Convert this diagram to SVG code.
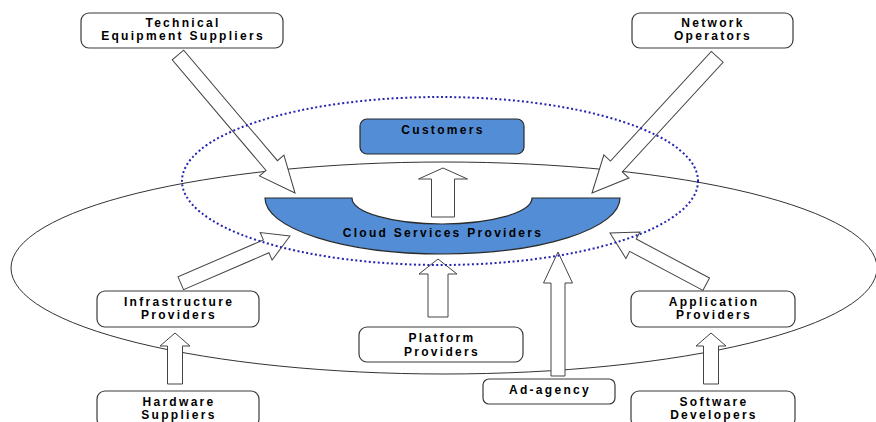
<svg xmlns="http://www.w3.org/2000/svg" width="876" height="422" viewBox="0 0 876 422">
<style>
.box{fill:#fff;stroke:#3a3a3a;stroke-width:1.2}
.blue{fill:#538dd5;stroke:#2a2a2a;stroke-width:1.2}
.t{font-family:"Liberation Sans",Arial,sans-serif;font-weight:bold;font-size:12px;letter-spacing:2.3px;text-anchor:middle;fill:#000}
.arr{fill:#fff;stroke:#444;stroke-width:1;stroke-linejoin:miter}
</style>
<rect width="876" height="422" fill="#fff"/>
<ellipse cx="444" cy="268" rx="433" ry="106" fill="none" stroke="#333" stroke-width="1"/>
<g id="csp">
<path class="blue" d="M265,198 L352,198 A90,26 0 0 0 532,198 L620,198 A177.5,56 0 0 1 265,198 Z"/>
<text class="t" x="443" y="237">Cloud Services Providers</text>
</g>
<g id="connectors">
<polygon class="arr" transform="translate(295,193) rotate(49.7)" points="0,0 -36,-16 -36,-7.5 -181,-7.5 -181,7.5 -36,7.5 -36,16"/>
<polygon class="arr" transform="translate(592,193) rotate(132.6)" points="0,0 -36,-17 -36,-8 -185,-8 -185,8 -36,8 -36,17"/>
<polygon class="arr" transform="translate(443,168) rotate(-90)" points="0,0 -11,-24.5 -11,-11.5 -49,-11.5 -49,11.5 -11,11.5 -11,24.5"/>
<polygon class="arr" transform="translate(290,236) rotate(-23.4)" points="0,0 -26,-15 -26,-7 -119,-7 -119,7 -26,7 -26,15"/>
<polygon class="arr" transform="translate(438,259) rotate(-90)" points="0,0 -15,-19 -15,-10 -58,-10 -58,10 -15,10 -15,19"/>
<polygon class="arr" transform="translate(558,252) rotate(-90)" points="0,0 -31,-14.5 -31,-7 -124,-7 -124,7 -31,7 -31,14.5"/>
<polygon class="arr" transform="translate(610,233) rotate(-152)" points="0,0 -26,-15 -26,-7 -109,-7 -109,7 -26,7 -26,15"/>
<polygon class="arr" transform="translate(175,333) rotate(-90)" points="0,0 -13,-15 -13,-7.5 -51,-7.5 -51,7.5 -13,7.5 -13,15"/>
<polygon class="arr" transform="translate(711,333) rotate(-90)" points="0,0 -13,-15 -13,-7.5 -51,-7.5 -51,7.5 -13,7.5 -13,15"/>
</g>
<ellipse cx="440" cy="181" rx="258" ry="84" fill="none" stroke="#2424b0" stroke-width="2" stroke-dasharray="2,2.5"/>
<g id="customers">
<rect class="blue" x="360" y="119" width="164" height="35" rx="7"/>
<text class="t" x="443" y="134">Customers</text>
</g>
<g id="technical-equipment-suppliers">
<rect class="box" x="81" y="13" width="202" height="35" rx="8"/>
<text class="t" x="183" y="26.5">Technical</text>
<text class="t" x="183" y="40">Equipment Suppliers</text>
</g>
<g id="network-operators">
<rect class="box" x="632" y="13" width="161" height="35" rx="8"/>
<text class="t" x="713" y="26.5">Network</text>
<text class="t" x="713" y="40">Operators</text>
</g>
<g id="infrastructure-providers">
<rect class="box" x="97" y="291" width="162" height="36" rx="8"/>
<text class="t" x="179" y="305.5">Infrastructure</text>
<text class="t" x="179" y="319">Providers</text>
</g>
<g id="hardware-suppliers">
<rect class="box" x="97" y="391" width="162" height="36" rx="8"/>
<text class="t" x="179" y="405.5">Hardware</text>
<text class="t" x="179" y="419">Suppliers</text>
</g>
<g id="platform-providers">
<rect class="box" x="359" y="327" width="164" height="35" rx="8"/>
<text class="t" x="442" y="342">Platform</text>
<text class="t" x="442" y="355.5">Providers</text>
</g>
<g id="ad-agency">
<rect class="box" x="483" y="379" width="132" height="25" rx="6"/>
<text class="t" x="550" y="394">Ad-agency</text>
</g>
<g id="application-providers">
<rect class="box" x="631" y="291" width="164" height="36" rx="8"/>
<text class="t" x="714" y="305.5">Application</text>
<text class="t" x="714" y="319">Providers</text>
</g>
<g id="software-developers">
<rect class="box" x="631" y="391" width="164" height="36" rx="8"/>
<text class="t" x="714" y="405.5">Software</text>
<text class="t" x="714" y="419">Developers</text>
</g>
</svg>
